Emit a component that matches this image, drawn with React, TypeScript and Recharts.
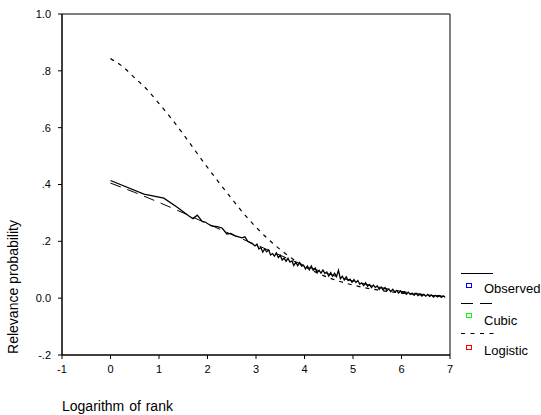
import { LineChart, Line, XAxis, YAxis, ReferenceArea } from 'recharts';

const observedLogRank = [
  0, 0.69, 1.1, 1.39, 1.61, 1.7, 1.79, 1.89, 1.95, 2.08, 2.2, 2.3, 2.4, 2.48, 2.56, 2.64, 2.71, 2.77, 2.83, 2.89, 2.94, 2.98,
  3.02, 3.06, 3.1, 3.14, 3.18, 3.22, 3.26, 3.3, 3.34, 3.38, 3.42, 3.46, 3.5, 3.54, 3.58, 3.62, 3.66, 3.7, 3.74, 3.78,
  3.82, 3.86, 3.9, 3.94, 3.98, 4.02, 4.06, 4.1, 4.14, 4.18, 4.22, 4.26, 4.3, 4.34, 4.38, 4.42, 4.46, 4.5, 4.54, 4.58,
  4.62, 4.66, 4.7, 4.74, 4.78, 4.82, 4.86, 4.9, 4.94, 4.98, 5.02, 5.06, 5.1, 5.14, 5.18, 5.22, 5.26, 5.3, 5.34, 5.38,
  5.42, 5.46, 5.5, 5.54, 5.58, 5.62, 5.66, 5.7, 5.74, 5.78, 5.82, 5.86, 5.9, 5.94, 5.98, 6.02, 6.06, 6.1, 6.14, 6.18,
  6.22, 6.26, 6.3, 6.34, 6.38, 6.42, 6.46, 6.5, 6.54, 6.58, 6.62, 6.66, 6.7, 6.74, 6.78, 6.82, 6.86, 6.9,
];
const observedProb = [
  0.414, 0.366, 0.352, 0.318, 0.29, 0.28, 0.292, 0.27, 0.268, 0.254, 0.252, 0.247, 0.226, 0.228, 0.22, 0.216, 0.212, 0.216, 0.2, 0.194, 0.19, 0.184,
  0.19, 0.173, 0.178, 0.162, 0.173, 0.163, 0.17, 0.152, 0.157, 0.148, 0.159, 0.143, 0.151, 0.134, 0.141, 0.13, 0.14, 0.127, 0.131, 0.115,
  0.127, 0.114, 0.125, 0.113, 0.116, 0.103, 0.113, 0.1, 0.113, 0.098, 0.106, 0.09, 0.098, 0.088, 0.099, 0.087, 0.092, 0.078, 0.09, 0.077,
  0.088, 0.076, 0.098, 0.068, 0.077, 0.064, 0.075, 0.062, 0.067, 0.056, 0.065, 0.055, 0.062, 0.049, 0.054, 0.044, 0.054, 0.042, 0.048, 0.037,
  0.046, 0.038, 0.043, 0.031, 0.039, 0.029, 0.037, 0.027, 0.032, 0.023, 0.031, 0.022, 0.027, 0.018, 0.025, 0.017, 0.022, 0.014, 0.021, 0.013,
  0.018, 0.01, 0.017, 0.009, 0.015, 0.007, 0.013, 0.007, 0.013, 0.006, 0.011, 0.004, 0.01, 0.004, 0.009, 0.003, 0.008, 0.003,
];

const cubicLogRank = [0, 0.5, 1, 1.5, 2, 2.5, 3, 3.5, 4, 4.5, 5, 5.5, 6, 6.5, 6.9];
const cubicProb = [0.405, 0.372, 0.337, 0.3, 0.262, 0.224, 0.188, 0.151, 0.115, 0.085, 0.06, 0.04, 0.024, 0.012, 0.006];

const logisticLogRank = [0, 0.25, 0.5, 0.75, 1, 1.25, 1.5, 1.75, 2, 2.25, 2.5, 2.75, 3, 3.25, 3.5, 3.75, 4, 4.5, 5, 5.5, 6, 6.5, 6.9];
const logisticProb = [0.843, 0.815, 0.775, 0.735, 0.685, 0.633, 0.577, 0.518, 0.46, 0.404, 0.35, 0.297, 0.25, 0.208, 0.171, 0.139, 0.112, 0.072, 0.046, 0.029, 0.018, 0.011, 0.008];

const xTicks = [-1, 0, 1, 2, 3, 4, 5, 6, 7];
const yTicks = [-0.2, 0, 0.2, 0.4, 0.6, 0.8, 1.0];
const yTickLabels = ['-.2', '0.0', '.2', '.4', '.6', '.8', '1.0'];

const toPoints = (xs: number[], ys: number[]) => xs.map((x, i) => ({ x, y: ys[i] }));

const observed = toPoints(observedLogRank, observedProb);
const cubic = toPoints(cubicLogRank, cubicProb);
const logistic = toPoints(logisticLogRank, logisticProb);

const FONT = '"Liberation Sans", Arial, sans-serif';

export default function App() {
  const tickStyle = { fill: '#000', fontSize: 11, fontFamily: FONT };
  return (
    <div style={{ position: 'absolute', left: 0, top: 0, width: 541, height: 415, background: '#fff' }}>
      <LineChart width={541} height={415} margin={{ top: 14, right: 91, left: 0, bottom: 0 }}>
        <XAxis
          type="number"
          dataKey="x"
          domain={[-1, 7]}
          ticks={xTicks}
          allowDataOverflow
          height={60}
          stroke="#000"
          tickSize={4}
          tickMargin={6}
          tick={tickStyle}
        />
        <YAxis
          type="number"
          dataKey="y"
          domain={[-0.2, 1]}
          ticks={yTicks}
          allowDataOverflow
          width={62}
          stroke="#000"
          tickSize={4}
          tickMargin={7}
          tick={tickStyle}
          tickFormatter={(v: number) => yTickLabels[yTicks.findIndex((t) => Math.abs(t - v) < 1e-9)] ?? String(v)}
        />
        <ReferenceArea x1={-1} x2={7} y1={-0.2} y2={1} fill="none" stroke="#000" strokeWidth={1} ifOverflow="visible" />
        <Line data={logistic} dataKey="y" type="monotone" stroke="#000" strokeWidth={1.2} strokeDasharray="4 5" dot={false} isAnimationActive={false} />
        <Line data={cubic} dataKey="y" type="monotone" stroke="#000" strokeWidth={1} strokeDasharray="11 7" dot={false} isAnimationActive={false} />
        <Line data={observed} dataKey="y" type="linear" stroke="#000" strokeWidth={1.3} dot={false} isAnimationActive={false} />
      </LineChart>
      <svg width={541} height={415} style={{ position: 'absolute', left: 0, top: 0, pointerEvents: 'none' }} fontFamily={FONT}>
        <text transform="translate(18,287) rotate(-90)" textAnchor="middle" fontSize={14} fill="#000">Relevance probability</text>
        <text x={62} y={410.5} fontSize={14} fill="#000" wordSpacing={1}>Logarithm of rank</text>
        <g fontSize={13} fill="#000">
          <line x1={461} x2={493} y1={273.5} y2={273.5} stroke="#000" />
          <rect x={466.5} y={283.5} width={5} height={4} fill="#fff" stroke="#0000ff" />
          <text x={484} y={292.5}>Observed</text>
          <line x1={461} x2={493} y1={303.5} y2={303.5} stroke="#000" strokeDasharray="12 7" />
          <rect x={466.5} y={313.5} width={5} height={4} fill="#fff" stroke="#00ff00" />
          <text x={484} y={324.5}>Cubic</text>
          <line x1={461} x2={494} y1={333.5} y2={333.5} stroke="#000" strokeDasharray="4 5.5" />
          <rect x={466.5} y={345.5} width={5} height={4} fill="#fff" stroke="#ff0000" />
          <text x={484} y={354.5}>Logistic</text>
        </g>
      </svg>
    </div>
  );
}
